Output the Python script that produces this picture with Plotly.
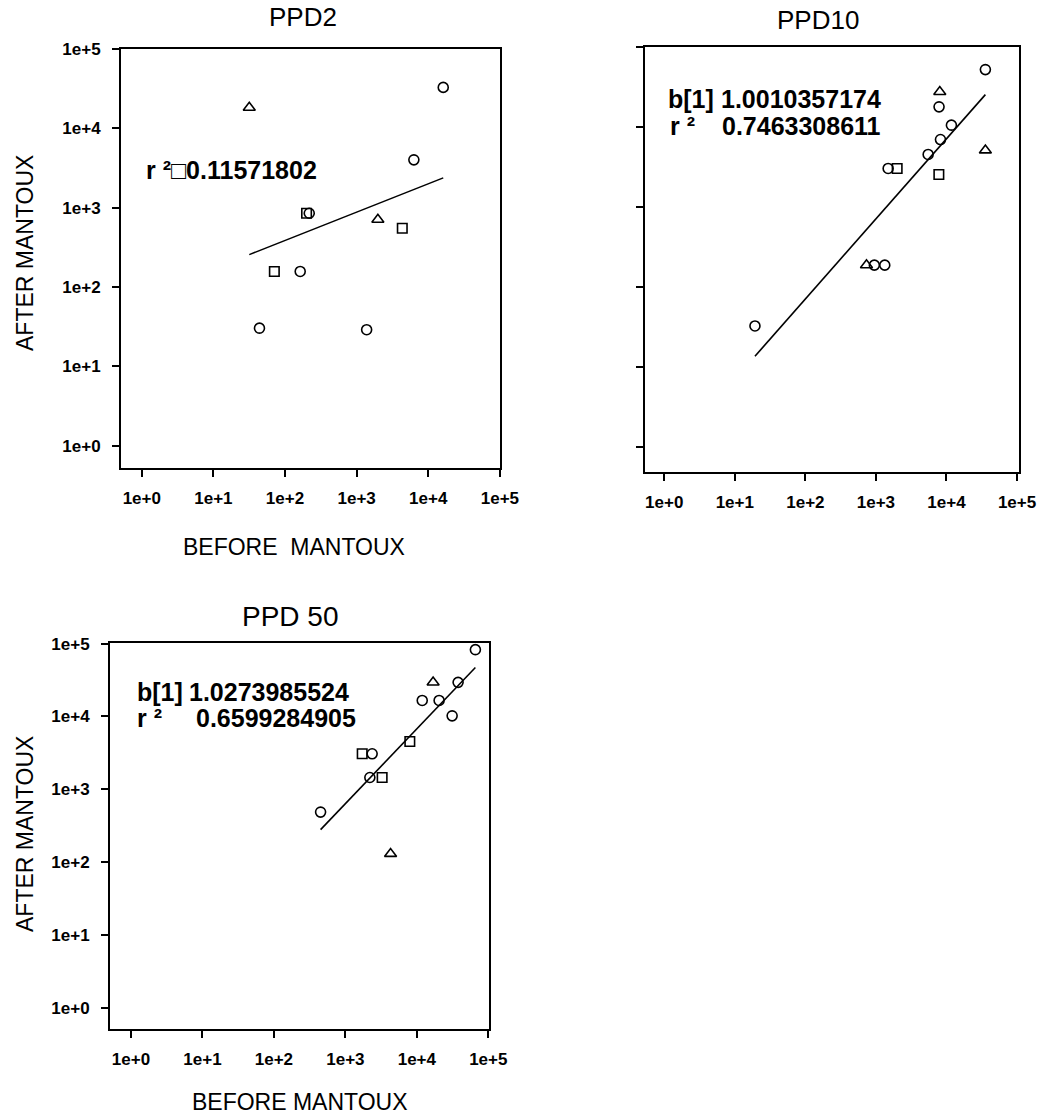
import numpy as np
import plotly.graph_objects as go

W, H = 1052, 1117

# log-axis ticks shared by every panel
TICK_VALS = [1, 10, 100, 1000, 10000, 100000]
TICK_TEXT = ["1e+0", "1e+1", "1e+2", "1e+3", "1e+4", "1e+5"]

# ---- PPD2 ----
ppd2_circle_before = [16200, 6300, 218, 163, 44, 1380]
ppd2_circle_after = [32700, 4000, 850, 157, 30.3, 29]
ppd2_square_before = [200, 71, 4340]
ppd2_square_after = [850, 157, 550]
ppd2_triangle_before = [31.7, 1980]
ppd2_triangle_after = [18200, 707]
ppd2_fit_slope = 0.357
ppd2_fit_intercept = 1.872
ppd2_r2 = "0.11571802"

# ---- PPD10 ----
ppd10_circle_before = [35600, 7850, 11750, 8220, 5500, 1490, 950, 1335, 19.3]
ppd10_circle_after = [52000, 17800, 10500, 6940, 4520, 3020, 187, 187, 32.5]
ppd10_square_before = [2000, 7800]
ppd10_square_after = [3020, 2540]
ppd10_triangle_before = [8040, 35600, 735]
ppd10_triangle_after = [27400, 5100, 187]
ppd10_fit_slope = 1.0010357174
ppd10_fit_intercept = -0.153
ppd10_r2 = "0.7463308611"

# ---- PPD 50 ----
ppd50_circle_before = [66000, 37800, 11900, 20500, 31200, 2370, 2200, 450]
ppd50_circle_after = [82700, 29400, 16600, 16600, 10200, 3070, 1450, 486]
ppd50_square_before = [7980, 1720, 3270]
ppd50_square_after = [4540, 3070, 1450]
ppd50_triangle_before = [16900, 4290]
ppd50_triangle_after = [29400, 130]
ppd50_fit_slope = 1.0273985524
ppd50_fit_intercept = -0.280
ppd50_r2 = "0.6599284905"


def px_x(p):
    return p / W


def px_y(p):
    return 1 - p / H


FONT = "Liberation Sans, Arial, sans-serif"

fig = go.Figure()

panels = [
    dict(ax="", circle=(ppd2_circle_before, ppd2_circle_after),
         square=(ppd2_square_before, ppd2_square_after),
         triangle=(ppd2_triangle_before, ppd2_triangle_after),
         slope=ppd2_fit_slope, intercept=ppd2_fit_intercept),
    dict(ax="2", circle=(ppd10_circle_before, ppd10_circle_after),
         square=(ppd10_square_before, ppd10_square_after),
         triangle=(ppd10_triangle_before, ppd10_triangle_after),
         slope=ppd10_fit_slope, intercept=ppd10_fit_intercept),
    dict(ax="3", circle=(ppd50_circle_before, ppd50_circle_after),
         square=(ppd50_square_before, ppd50_square_after),
         triangle=(ppd50_triangle_before, ppd50_triangle_after),
         slope=ppd50_fit_slope, intercept=ppd50_fit_intercept),
]

symbols = {"circle": ("circle-open", 10), "square": ("square-open", 9.5),
           "triangle": ("triangle-up-open", 10.5)}

for p in panels:
    xa, ya = "x" + p["ax"], "y" + p["ax"]
    all_x = p["circle"][0] + p["square"][0] + p["triangle"][0]
    lx = np.log10([min(all_x), max(all_x)])
    fit_x = 10 ** lx
    fit_y = 10 ** (p["intercept"] + p["slope"] * lx)
    fig.add_trace(go.Scatter(x=fit_x, y=fit_y, mode="lines",
                             line=dict(color="black", width=1.6),
                             xaxis=xa, yaxis=ya, hoverinfo="skip"))
    for key, (sym, size) in symbols.items():
        bx, ay = p[key]
        fig.add_trace(go.Scatter(x=bx, y=ay, mode="markers",
                                 marker=dict(symbol=sym, size=size, color="black",
                                             line=dict(color="black", width=1.6)),
                                 xaxis=xa, yaxis=ya))

axis_common = dict(type="log", tickmode="array", tickvals=TICK_VALS, ticktext=TICK_TEXT,
                   showgrid=False, zeroline=False, showline=True, linecolor="black",
                   linewidth=2, mirror=True, ticks="outside", ticklen=7, tickwidth=1.5,
                   tickcolor="black", automargin=False,
                   tickfont=dict(family=FONT, size=17, color="black", weight="bold"))

boxes = {
    "": dict(x=(121, 500), y=(468, 48.7), xr=(-0.29, 5.002), yr=(-0.28, 5.002), ylab=True),
    "2": dict(x=(645, 1019), y=(471.7, 46.7), xr=(-0.273, 5.028), yr=(-0.31, 5.002), ylab=False),
    "3": dict(x=(110, 489), y=(1029, 643.3), xr=(-0.294, 5.01), yr=(-0.293, 5.005), ylab=True),
}

layout = {}
for k, b in boxes.items():
    layout["xaxis" + k] = dict(axis_common, domain=[px_x(b["x"][0]), px_x(b["x"][1])],
                               range=list(b["xr"]), anchor="y" + k, ticklabelstandoff=7)
    layout["yaxis" + k] = dict(axis_common, domain=[px_y(b["y"][0]), px_y(b["y"][1])],
                               range=list(b["yr"]), anchor="x" + k,
                               showticklabels=b["ylab"], ticklabelstandoff=8)


def text(s, x, y, size, weight="normal", xanchor="center", angle=0):
    return dict(text=s, x=px_x(x), y=px_y(y), xref="paper", yref="paper",
                xanchor=xanchor, yanchor="middle", showarrow=False, textangle=angle,
                borderpad=0, font=dict(family=FONT, size=size, color="black", weight=weight))


annotations = [
    # panel titles
    text("PPD2", 303, 17, 26),
    text("PPD10", 818, 20, 26),
    text("PPD 50", 290, 616, 28),
    # axis titles
    text("BEFORE\u00a0 MANTOUX", 294, 547, 23),
    text("BEFORE MANTOUX", 300, 1102, 23),
    text("AFTER MANTOUX", 25, 253, 23, angle=-90),
    text("AFTER MANTOUX", 25, 834, 23, angle=-90),
    # regression statistics
    text("r \u00b2\u25a1" + ppd2_r2, 145, 170, 25, "bold", "left"),
    text("b[1]", 667, 99, 25, "bold", "left"),
    text(f"{ppd10_fit_slope:.10f}", 720, 99, 25, "bold", "left"),
    text("r \u00b2", 669, 126, 25, "bold", "left"),
    text(ppd10_r2, 721, 126, 25, "bold", "left"),
    text("b[1]", 136, 692, 25, "bold", "left"),
    text(f"{ppd50_fit_slope:.10f}", 188, 692, 25, "bold", "left"),
    text("r \u00b2", 136, 718, 25, "bold", "left"),
    text(ppd50_r2, 195, 718, 25, "bold", "left"),
]

fig.update_layout(width=W, height=H, autosize=False, margin=dict(l=0, r=0, t=0, b=0),
                  paper_bgcolor="white", plot_bgcolor="white", showlegend=False,
                  annotations=annotations, **layout)

# page body without its default 8px margin so the figure sits at the window's corner
fig.write_html("out.html", config={"responsive": False},
               post_script="document.body.style.margin='0';")
